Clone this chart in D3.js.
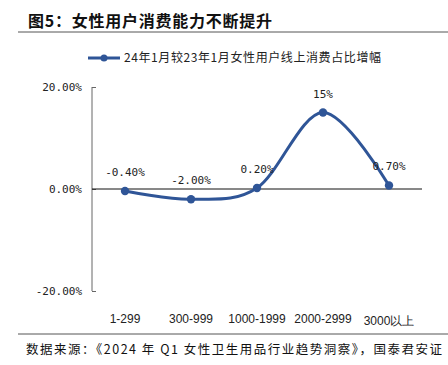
<!DOCTYPE html>
<html><head><meta charset="utf-8">
<script src="https://cdn.jsdelivr.net/npm/d3@7/dist/d3.min.js"></script>
<style>body{margin:0;background:#fff}svg{display:block}</style>
</head><body><svg id="c" width="448" height="365"></svg>
<script>
const title = "图5：女性用户消费能力不断提升";
const seriesName = "24年1月较23年1月女性用户线上消费占比增幅";
const categories = ["1-299", "300-999", "1000-1999", "2000-2999", "3000以上"];
const values = [-0.4, -2.0, 0.2, 15, 0.7];
const valueLabels = ["-0.40%", "-2.00%", "0.20%", "15%", "0.70%"];
const yTicks = [-20, 0, 20];
const source = "数据来源：《2024 年 Q1 女性卫生用品行业趋势洞察》，国泰君安证";

const svg = d3.select("#c");
const blue = "#2F5597";
const cjk = "'Noto Sans CJK SC', sans-serif";

// title
svg.append("text").attr("x", 28).attr("y", 27).attr("font-family", cjk)
  .attr("font-size", 16).attr("font-weight", "bold").attr("fill", "#111")
  .attr("textLength", 244).attr("lengthAdjust", "spacing").text(title);
svg.append("line").attr("x1", 18).attr("x2", 448).attr("y1", 32).attr("y2", 32)
  .attr("stroke", "#555").attr("stroke-width", 1);

// scales
const x = d3.scaleBand().domain(categories).range([92, 422]);
const y = d3.scaleLinear().domain([-20, 20]).range([291, 87]);

// y axis
const yAxis = d3.axisLeft(y).tickValues(yTicks).tickSize(-4).tickPadding(10)
  .tickFormat(d => d.toFixed(2) + "%");
const gy = svg.append("g").attr("transform", "translate(92,0)").call(yAxis);
gy.select(".domain").attr("stroke", "#666").attr("d", `M0,${y(20)}V${y(-20)}`);
gy.selectAll(".tick line").attr("stroke", "#666");
gy.selectAll(".tick text").attr("font-family", "'DejaVu Sans Mono', monospace")
  .attr("font-size", 11).attr("fill", "#222");

// zero line
svg.append("line").attr("x1", 92).attr("x2", 422).attr("y1", y(0)).attr("y2", y(0))
  .attr("stroke", "#111").attr("stroke-width", 1);

// x labels
const gx = svg.append("g").attr("transform", "translate(0,291)")
  .call(d3.axisBottom(x).tickSize(0).tickPadding(23));
gx.select(".domain").remove();
gx.selectAll(".tick text").attr("font-family", "'Liberation Sans', Arial, sans-serif")
  .attr("font-size", 12).attr("fill", "#222")
  .attr("dy", (d, i) => i === 4 ? "0.9em" : "0.71em");

// line
const pts = categories.map((c, i) => [x(c) + x.bandwidth() / 2, y(values[i])]);
svg.append("path").attr("d", d3.line().curve(d3.curveCatmullRom.alpha(0))(pts))
  .attr("fill", "none").attr("stroke", blue).attr("stroke-width", 3);
svg.selectAll("circle.pt").data(pts).enter().append("circle").attr("class", "pt")
  .attr("cx", d => d[0]).attr("cy", d => d[1]).attr("r", 4.2).attr("fill", blue);

// value labels
svg.selectAll("text.vl").data(pts).enter().append("text").attr("class", "vl")
  .attr("x", d => d[0]).attr("y", d => d[1] - 15).attr("text-anchor", "middle")
  .attr("font-family", "'DejaVu Sans Mono', monospace").attr("font-size", 11).attr("fill", "#222")
  .text((d, i) => valueLabels[i]);

// legend
svg.append("line").attr("x1", 88).attr("x2", 120).attr("y1", 58).attr("y2", 58)
  .attr("stroke", blue).attr("stroke-width", 3);
svg.append("circle").attr("cx", 104).attr("cy", 58).attr("r", 3.5).attr("fill", blue);
svg.append("text").attr("x", 124).attr("y", 62).attr("font-family", cjk)
  .attr("font-size", 12).attr("fill", "#222").attr("textLength", 257)
  .attr("lengthAdjust", "spacing").text(seriesName);

// source
svg.append("line").attr("x1", 18).attr("x2", 448).attr("y1", 334).attr("y2", 334)
  .attr("stroke", "#555").attr("stroke-width", 1);
svg.append("text").attr("x", 26).attr("y", 354).attr("font-family", cjk)
  .attr("font-size", 12.5).attr("fill", "#111").attr("textLength", 416)
  .attr("lengthAdjust", "spacing").text(source);
</script></body></html>
